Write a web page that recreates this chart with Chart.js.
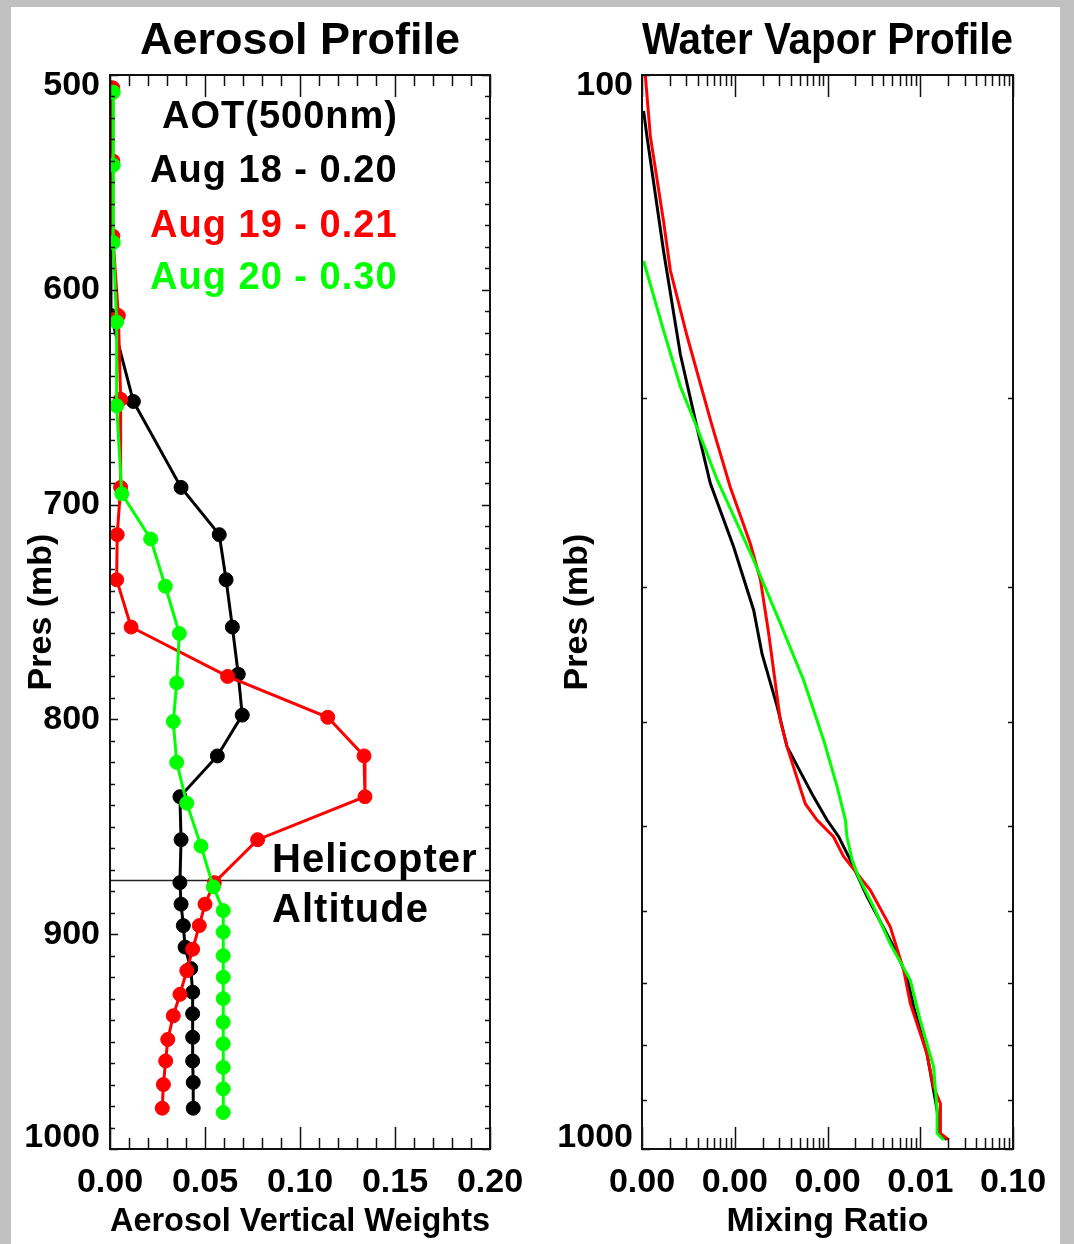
<!DOCTYPE html>
<html>
<head>
<meta charset="utf-8">
<script src="https://cdn.jsdelivr.net/npm/chart.js@4.4.1/dist/chart.umd.min.js"></script>
<style>
html, body { margin: 0; padding: 0; }
body { width: 1074px; height: 1244px; background: #c0c0c0; position: relative; overflow: hidden; }
#paper { position: absolute; left: 11px; top: 7px; width: 1049px; height: 1237px; background: #fff; }
canvas { position: absolute; top: 0; }
#aero { left: 0; }
#wv { left: 537px; }
</style>
</head>
<body>
<div id="paper"></div>
<canvas id="aero" width="537" height="1244"></canvas>
<canvas id="wv" width="537" height="1244"></canvas>
<script>
// aerosol vertical weights per day (pressure in mb)
const presAug18 = [506, 540, 575, 612, 652, 692, 714, 735, 757, 779, 798, 817, 836, 856, 876, 886, 896, 906, 916, 927, 937, 948, 959, 969, 981];
const aeroAug18 = [0.0005, 0.0005, 0.0005, 0.0005, 0.0123, 0.0374, 0.0575, 0.0611, 0.0644, 0.0675, 0.0696, 0.0565, 0.0368, 0.0374, 0.0368, 0.0374, 0.0386, 0.0395, 0.0425, 0.0435, 0.0435, 0.0435, 0.0435, 0.0438, 0.0438];

const presAug19 = [506, 540, 575, 612, 651, 692, 714, 735, 757, 780, 799, 817, 836, 856, 876, 886, 896, 907, 917, 928, 938, 949, 959, 970, 981];
const aeroAug19 = [0.0015, 0.0015, 0.0015, 0.0044, 0.0056, 0.0056, 0.0038, 0.0035, 0.0111, 0.0619, 0.1146, 0.1337, 0.1342, 0.0777, 0.0549, 0.0500, 0.0470, 0.0435, 0.0404, 0.0368, 0.0333, 0.0304, 0.0293, 0.0281, 0.0275];

const presAug20 = [508, 542, 578, 615, 654, 695, 716, 738, 760, 783, 801, 820, 839, 859, 878, 889, 899, 910, 920, 930, 941, 951, 962, 972, 983];
const aeroAug20 = [0.0017, 0.0017, 0.0017, 0.0035, 0.0035, 0.0062, 0.0214, 0.0291, 0.0365, 0.0351, 0.0333, 0.0351, 0.0404, 0.0479, 0.0544, 0.0596, 0.0596, 0.0596, 0.0596, 0.0596, 0.0596, 0.0596, 0.0596, 0.0596, 0.0596];

const helicopterPres = 875;
const aotTitle = 'AOT(500nm)';
const aotLabels = ['Aug 18 - 0.20', 'Aug 19 - 0.21', 'Aug 20 - 0.30'];

// water vapor mixing ratio per day
const wvPres18 = [108, 114, 146, 182, 213, 240, 275, 315, 346, 387, 422, 470, 494, 512, 538, 582, 648, 691, 737, 815, 920, 967, 980];
const wvMix18 = [1.04e-5, 1.13e-5, 1.71e-5, 2.59e-5, 3.92e-5, 5.45e-5, 9.72e-5, 1.60e-4, 1.97e-4, 2.86e-4, 3.66e-4, 7.08e-4, 9.88e-4, 1.32e-3, 1.76e-3, 2.67e-3, 5.16e-3, 7.20e-3, 8.48e-3, 1.18e-2, 1.52e-2, 1.60e-2, 1.94e-2];

const wvPres19 = [100, 114, 137, 152, 175, 211, 242, 273, 295, 331, 399, 422, 477, 494, 512, 534, 574, 621, 681, 732, 815, 875, 907, 967, 980];
const wvMix19 = [1.085e-5, 1.23e-5, 1.71e-5, 2.02e-5, 3.06e-5, 5.6e-5, 8.95e-5, 1.47e-4, 1.89e-4, 2.32e-4, 3.10e-4, 3.66e-4, 5.76e-4, 7.71e-4, 1.16e-3, 1.49e-3, 2.89e-3, 4.75e-3, 6.62e-3, 7.81e-3, 1.18e-2, 1.39e-2, 1.65e-2, 1.65e-2, 2.02e-2];

const wvPres20 = [149, 173, 195, 213, 238, 283, 324, 366, 416, 460, 494, 512, 538, 558, 595, 644, 696, 759, 838, 920, 967, 981];
const wvMix20 = [1.04e-5, 1.71e-5, 2.59e-5, 3.92e-5, 6.44e-5, 1.60e-4, 3.10e-4, 5.53e-4, 9.08e-4, 1.27e-3, 1.56e-3, 1.62e-3, 1.84e-3, 2.16e-3, 3.14e-3, 4.75e-3, 7.81e-3, 1.00e-2, 1.39e-2, 1.52e-2, 1.52e-2, 1.79e-2];

// axis ticks
const aeroTicks = [0, 0.05, 0.10, 0.15, 0.20];
const presTicks = [500, 600, 700, 800, 900, 1000];
const mixTicks = [1e-5, 1e-4, 1e-3, 1e-2, 1e-1];
const wvPresTicks = [100, 1000];

const FONT = "'Liberation Sans', Arial, Helvetica, sans-serif";
const BLACK = '#000000', RED = '#ff0000', GREEN = '#00ff00';

function pts(xs, ys) {
    return xs.map((v, i) => ({x: v, y: ys[i]}));
}

// end labels sit a bit inside the box, like the original plot
function edgeLabel(v, first, last) {
    if (v === first) return ['', String(v)];
    if (v === last) return [String(v), ''];
    return String(v);
}

// inward ticks on all four sides plus the box
function boxTicks(xTicks, yTicks) {
    return {
        id: 'boxTicks',
        afterDatasetsDraw(chart) {
            const {ctx, chartArea: a} = chart;
            const xs = chart.scales.x, ys = chart.scales.y;
            ctx.save();
            ctx.strokeStyle = '#111';
            ctx.lineWidth = 1.5;
            ctx.beginPath();
            xTicks.forEach(t => {
                const px = Math.round(xs.getPixelForValue(t.v)) + 0.5;
                ctx.moveTo(px, a.bottom); ctx.lineTo(px, a.bottom - t.len);
                ctx.moveTo(px, a.top); ctx.lineTo(px, a.top + t.len);
            });
            yTicks.forEach(t => {
                const py = Math.round(ys.getPixelForValue(t.v)) + 0.5;
                ctx.moveTo(a.left, py); ctx.lineTo(a.left + t.len, py);
                ctx.moveTo(a.right, py); ctx.lineTo(a.right - t.len, py);
            });
            ctx.stroke();
            ctx.lineWidth = 2;
            ctx.strokeRect(a.left, a.top, a.right - a.left, a.bottom - a.top);
            ctx.restore();
        }
    };
}

const aeroXT = [];
for (let i = 0; i <= 20; i++) aeroXT.push({v: i * 0.01, len: i % 5 === 0 ? 22 : 11});
const aeroYT = [];
for (let p = 500; p <= 1000; p += 10) aeroYT.push({v: p, len: p % 100 === 0 ? 8 : 5});

const wvXT = [];
for (let e = -5; e <= -2; e++) {
    for (let k = 1; k <= 9; k++) wvXT.push({v: k * Math.pow(10, e), len: k === 1 ? 22 : 11});
}
wvXT.push({v: 0.1, len: 22});
const wvYT = [];
for (let p = 100; p <= 1000; p += 100) wvYT.push({v: p, len: (p === 100 || p === 1000) ? 8 : 5});

const notes = {
    id: 'notes',
    afterDraw(chart) {
        const {ctx} = chart;
        const x = chart.scales.x, y = chart.scales.y;
        ctx.save();
        ctx.textBaseline = 'alphabetic';
        ctx.textAlign = 'left';
        ctx.font = 'bold 38px ' + FONT;
        ctx.letterSpacing = '1px';
        ctx.fillStyle = BLACK;
        ctx.fillText(aotTitle, x.getPixelForValue(0.0274), y.getPixelForValue(524.8));
        const cols = [BLACK, RED, GREEN];
        const base = [549.7, 575.3, 599.8];
        aotLabels.forEach((t, i) => {
            ctx.fillStyle = cols[i];
            ctx.fillText(t, x.getPixelForValue(0.0211), y.getPixelForValue(base[i]));
        });
        ctx.font = 'bold 40px ' + FONT;
        ctx.fillStyle = BLACK;
        ctx.fillText('Helicopter', x.getPixelForValue(0.0853), y.getPixelForValue(870.9));
        ctx.fillText('Altitude', x.getPixelForValue(0.0853), y.getPixelForValue(894.2));
        ctx.restore();
    }
};

function tickFont(lh) {
    const f = {family: FONT, size: 34, weight: 'bold'};
    if (lh) f.lineHeight = lh;
    return f;
}
const titleFont = {family: FONT, size: 34, weight: 'bold'};

Chart.defaults.color = '#000';

new Chart(document.getElementById('aero'), {
    type: 'scatter',
    data: {
        datasets: [
            {data: pts(aeroAug20, presAug20), borderColor: GREEN, backgroundColor: GREEN, order: 1},
            {data: pts(aeroAug19, presAug19), borderColor: RED, backgroundColor: RED, order: 2},
            {data: pts(aeroAug18, presAug18), borderColor: BLACK, backgroundColor: BLACK, order: 3},
            {data: [{x: 0, y: helicopterPres}, {x: 0.2, y: helicopterPres}], borderColor: '#222', borderWidth: 1.5, pointRadius: 0, order: 4}
        ].map(d => Object.assign({showLine: true, borderWidth: 3, pointRadius: 7, pointBorderWidth: 1, pointHoverRadius: 7}, d))
    },
    options: {
        responsive: false,
        animation: false,
        devicePixelRatio: 1,
        layout: {padding: {left: 0, right: 47, top: 0, bottom: 0}},
        plugins: {
            legend: {display: false},
            tooltip: {enabled: false},
            title: {display: true, text: 'Aerosol Profile', fullSize: false, color: '#000',
                font: {family: FONT, size: 45, weight: 'bold'}, padding: {top: 15, bottom: 6}}
        },
        scales: {
            x: {
                type: 'linear', min: 0, max: 0.2,
                grid: {display: false, drawTicks: false}, border: {display: false},
                afterBuildTicks: s => { s.ticks = aeroTicks.map(v => ({value: v})); },
                afterFit: s => { s.height = 95; },
                ticks: {font: tickFont(), padding: 13, maxRotation: 0, autoSkip: false,
                    callback: v => Number(v).toFixed(2)},
                title: {display: true, text: 'Aerosol Vertical Weights', font: titleFont, padding: {top: 0, bottom: 2}}
            },
            y: {
                type: 'linear', min: 500, max: 1000, reverse: true,
                grid: {display: false, drawTicks: false}, border: {display: false},
                afterBuildTicks: s => { s.ticks = presTicks.map(v => ({value: v})); },
                afterFit: s => { s.width = 110; },
                ticks: {font: tickFont('22px'), padding: 10, autoSkip: false,
                    callback: v => edgeLabel(v, 500, 1000)},
                title: {display: true, text: 'Pres (mb)', font: titleFont, padding: {top: 21, bottom: 0}}
            }
        }
    },
    plugins: [boxTicks(aeroXT, aeroYT), notes]
});

new Chart(document.getElementById('wv'), {
    type: 'scatter',
    data: {
        datasets: [
            {data: pts(wvMix20, wvPres20), borderColor: GREEN, order: 1},
            {data: pts(wvMix19, wvPres19), borderColor: RED, order: 2},
            {data: pts(wvMix18, wvPres18), borderColor: BLACK, order: 3}
        ].map(d => Object.assign({showLine: true, borderWidth: 3, pointRadius: 0, pointHoverRadius: 0}, d))
    },
    options: {
        responsive: false,
        animation: false,
        devicePixelRatio: 1,
        layout: {padding: {left: 0, right: 61, top: 0, bottom: 0}},
        plugins: {
            legend: {display: false},
            tooltip: {enabled: false},
            title: {display: true, text: 'Water Vapor Profile', fullSize: false, color: '#000',
                font: {family: FONT, size: 45, weight: 'bold'}, padding: {top: 15, bottom: 6}}
        },
        scales: {
            x: {
                type: 'logarithmic', min: 1e-5, max: 1e-1,
                grid: {display: false, drawTicks: false}, border: {display: false},
                afterBuildTicks: s => { s.ticks = mixTicks.map(v => ({value: v})); },
                afterFit: s => { s.height = 95; },
                ticks: {font: tickFont(), padding: 13, maxRotation: 0, autoSkip: false,
                    callback: v => Number(v).toFixed(2)},
                title: {display: true, text: 'Mixing Ratio', font: titleFont, padding: {top: 0, bottom: 2}}
            },
            y: {
                type: 'logarithmic', min: 100, max: 1000, reverse: true,
                grid: {display: false, drawTicks: false}, border: {display: false},
                afterBuildTicks: s => { s.ticks = wvPresTicks.map(v => ({value: v})); },
                afterFit: s => { s.width = 105; },
                ticks: {font: tickFont('22px'), padding: 9, autoSkip: false,
                    callback: v => edgeLabel(v, 100, 1000)},
                title: {display: true, text: 'Pres (mb)', font: titleFont, padding: {top: 20, bottom: 0}}
            }
        }
    },
    plugins: [boxTicks(wvXT, wvYT)]
});
</script>
</body>
</html>
